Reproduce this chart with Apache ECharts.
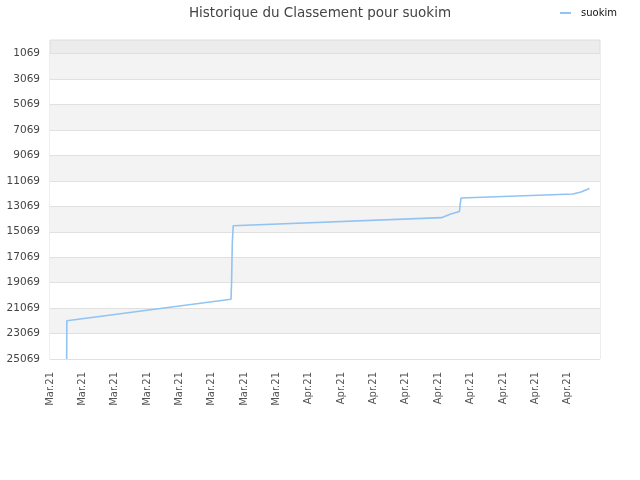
<!DOCTYPE html>
<html><head><meta charset="utf-8">
<script src="https://cdn.jsdelivr.net/npm/echarts@6/dist/echarts.min.js"></script>
<style>html,body{margin:0;padding:0;background:#fff}#c{width:640px;height:480px}</style>
</head><body><div id="c"></div>
<script>
// x-axis tick labels (one per tick step)
const tickLabels = ['Mar.21','Mar.21','Mar.21','Mar.21','Mar.21','Mar.21','Mar.21','Mar.21',
  'Apr.21','Apr.21','Apr.21','Apr.21','Apr.21','Apr.21','Apr.21','Apr.21','Apr.21',''];
// time position of each record, in tick steps
const timePos = [0.516, 0.520, 5.595, 5.613, 5.635, 5.662, 12.101, 12.364, 12.657, 12.679, 12.704, 16.165, 16.413, 16.675];
// rank of each record
const ranks = [25069, 22060, 20370, 19000, 15940, 14600, 13960, 13700, 13480, 12890, 12420, 12100, 11946, 11670];
// y-axis tick labels
const yTicks = [1069, 3069, 5069, 7069, 9069, 11069, 13069, 15069, 17069, 19069, 21069, 23069, 25069];

const chart = echarts.init(document.getElementById('c'), null, {renderer: 'canvas'});
const font = 'DejaVu Sans';
chart.setOption({
  animation: false,
  backgroundColor: '#ffffff',
  title: {
    text: 'Historique du Classement pour suokim',
    left: 'center', top: 1,
    textStyle: {fontFamily: font, fontSize: 13.5, fontWeight: 'normal', color: '#444'}
  },
  legend: {
    right: 18, top: 3,
    icon: 'rect', itemWidth: 11, itemHeight: 2,
    textStyle: {fontFamily: font, fontSize: 10, color: '#111', padding: [0, 0, 0, 5]},
    data: ['suokim']
  },
  grid: {
    left: 50, right: 40, top: 40, bottom: 121,
    show: true, backgroundColor: '#ececec', borderColor: '#dcdcdc', borderWidth: 1
  },
  xAxis: {
    type: 'value', min: 0, max: tickLabels.length - 1, interval: 1,
    axisLine: {show: false}, axisTick: {show: false}, splitLine: {show: false},
    axisLabel: {
      rotate: 90, margin: 13, showMaxLabel: false,
      fontFamily: font, fontSize: 10, color: '#555',
      formatter: v => tickLabels[Math.round(v)]
    }
  },
  yAxis: {
    type: 'value', inverse: true, min: 0, max: 25069,
    axisLine: {show: false},
    axisTick: {show: false, customValues: yTicks},
    axisLabel: {customValues: yTicks, fontFamily: font, fontSize: 10.5, color: '#444', margin: 10,
      formatter: v => String(v)},
    splitLine: {show: true, lineStyle: {color: '#e0e0e0', width: 1}},
    splitArea: {show: true, areaStyle: {color: ['#f3f3f3', '#ffffff']}}
  },
  series: [{
    name: 'suokim', type: 'line', showSymbol: false, symbol: 'none',
    lineStyle: {color: '#92c3f3', width: 1.6},
    itemStyle: {color: '#92c3f3'},
    data: timePos.map((t, i) => [t, ranks[i]])
  }]
});
</script></body></html>
